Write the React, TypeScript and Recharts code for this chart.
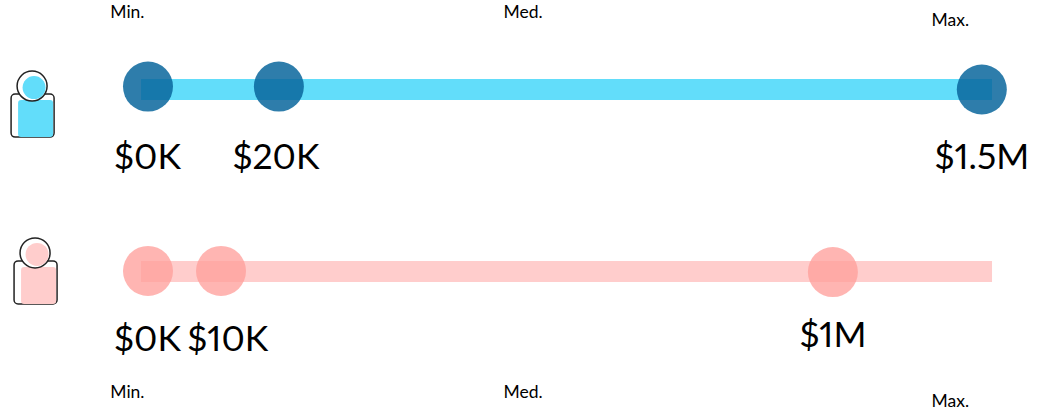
import React from "react";
import { ComposedChart, Line, Scatter, XAxis, YAxis } from "recharts";

const W = 1043;
const H = 410;
const FONT = "Lato, 'Noto Sans', sans-serif";

const blueBar = [{ x: 0, y: 1 }, { x: 100, y: 1 }];
const pinkBar = [{ x: 0, y: 0 }, { x: 100, y: 0 }];

const blueDots = [
  { x: 0.82, y: 1.016 },
  { x: 16.2, y: 1.016 },
  { x: 98.8, y: 1 },
];
const pinkDots = [
  { x: 0.82, y: 0.003 },
  { x: 9.4, y: 0.003 },
  { x: 81.3, y: -0.003 },
];

const blueValueLabels = [
  { x: 0.76, y: 0.635, text: "$0K" },
  { x: 15.86, y: 0.635, text: "$20K" },
  { x: 98.8, y: 0.635, text: "$1.5M" },
];
const pinkValueLabels = [
  { x: 0.76, y: -0.365, text: "$0K" },
  { x: 10.2, y: -0.365, text: "$10K" },
  { x: 81.3, y: -0.343, text: "$1M" },
];
const scaleLabels = [
  { x: -1.6, y: 1.426, text: "Min." },
  { x: 44.9, y: 1.426, text: "Med." },
  { x: 95.1, y: 1.382, text: "Max." },
  { x: -1.6, y: -0.662, text: "Min." },
  { x: 44.9, y: -0.662, text: "Med." },
  { x: 95.1, y: -0.711, text: "Max." },
];
const blueIcon = [{ x: -12.8, y: 0.857 }];
const pinkIcon = [{ x: -12.45, y: -0.06 }];

const Dot = (color: string, opacity: number) => (p: any) => (
  <circle cx={p.cx} cy={p.cy} r={25} fill={color} fillOpacity={opacity} />
);

const Label = (size: number) => (p: any) => (
  <text
    x={p.cx}
    y={p.cy}
    textAnchor="middle"
    dominantBaseline="central"
    fontFamily={FONT}
    fontSize={size}
    fill="#000"
    style={{ fontFeatureSettings: '"pnum" 1', fontVariantNumeric: "proportional-nums" }}
  >
    {p.payload.text}
  </text>
);

const Person = (color: string) => (p: any) => {
  const cx = p.cx;
  const cy = p.cy;
  return (
    <g>
      <rect x={cx - 21} y={cy - 21.5} width={43} height={43} rx={4} fill="#fff" stroke="#222" strokeWidth={1.5} />
      <rect x={cx - 14} y={cy - 15.5} width={35} height={37} rx={3} fill={color} />
      <circle cx={cx} cy={cy - 29.5} r={15} fill="#fff" stroke="#222" strokeWidth={1.5} />
      <circle cx={cx + 2} cy={cy - 28} r={11.5} fill={color} />
    </g>
  );
};

export default function App() {
  return (
    <div style={{ position: "absolute", left: 0, top: 0, width: W, height: H }}>
      <ComposedChart width={W} height={H} margin={{ top: 0, right: 0, bottom: 0, left: 0 }}>
        <XAxis type="number" dataKey="x" domain={[-16.57, 105.99]} hide allowDataOverflow />
        <YAxis type="number" dataKey="y" domain={[-0.761, 1.4918]} hide allowDataOverflow />
        <Line data={blueBar} dataKey="y" stroke="#62ddfa" strokeWidth={21} dot={false} activeDot={false} isAnimationActive={false} />
        <Line data={pinkBar} dataKey="y" stroke="#ffcdcc" strokeWidth={21} dot={false} activeDot={false} isAnimationActive={false} />
        <Scatter data={blueDots} dataKey="y" shape={Dot("#09669c", 0.85)} isAnimationActive={false} />
        <Scatter data={pinkDots} dataKey="y" shape={Dot("#ff9f9b", 0.77)} isAnimationActive={false} />
        <Scatter data={blueValueLabels} dataKey="y" shape={Label(35.5)} isAnimationActive={false} />
        <Scatter data={pinkValueLabels} dataKey="y" shape={Label(35.5)} isAnimationActive={false} />
        <Scatter data={scaleLabels} dataKey="y" shape={Label(17.5)} isAnimationActive={false} />
        <Scatter data={blueIcon} dataKey="y" shape={Person("#62ddfa")} isAnimationActive={false} />
        <Scatter data={pinkIcon} dataKey="y" shape={Person("#ffcdcc")} isAnimationActive={false} />
      </ComposedChart>
    </div>
  );
}
